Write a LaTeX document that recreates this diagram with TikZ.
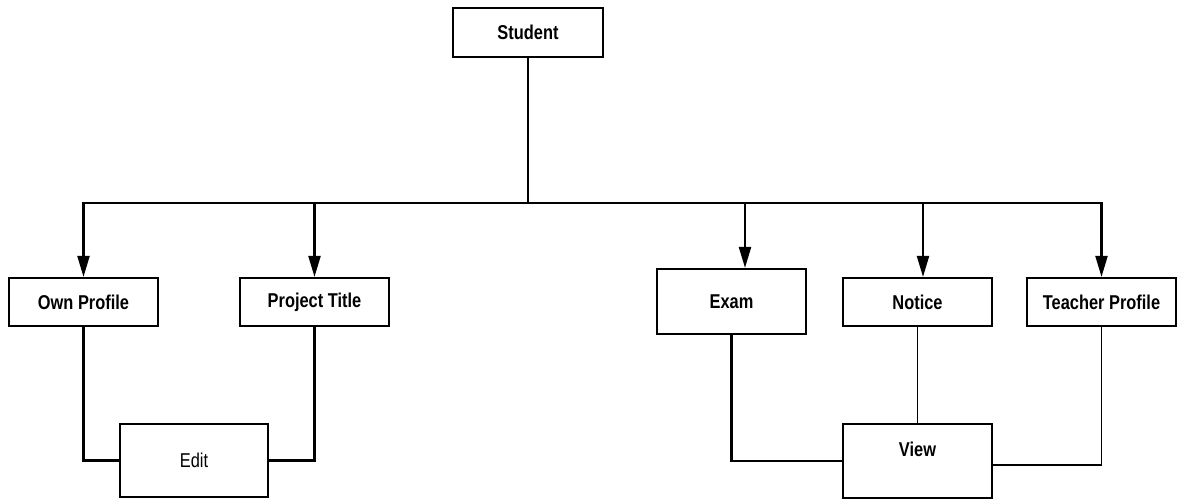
\documentclass[tikz,border=0pt]{standalone}
\usepackage{fontspec}
\setmainfont[FakeStretch=0.82]{Liberation Sans}
\usetikzlibrary{arrows.meta}
\begin{document}
\begin{tikzpicture}[x=1pt,y=-1pt,
  box/.style={draw,line width=2.2pt,inner sep=0pt,minimum width=149pt,minimum height=48pt,
    font=\fontsize{20}{23}\selectfont\bfseries},
  conn/.style={line width=2.2pt},
  thin/.style={line width=1.3pt},
  arr/.style={line width=2.2pt,-{Triangle[length=21pt,width=12pt]}}]
\useasboundingbox (0,0) rectangle (1181,499);
\node[box,minimum width=150pt,minimum height=49pt] (student) at (528,32.5) {Student};
\node[box] (own) at (83.5,302) {Own Profile};
\node[box] (proj) at (314.5,302) {Project Title};
\node[box,minimum height=65pt] (exam) at (731.5,301.5) {Exam};
\node[box] (notice) at (917.5,302) {Notice};
\node[box] (teacher) at (1101.5,302) {Teacher Profile};
\node[box,minimum width=148pt,minimum height=73pt,font=\fontsize{20}{23}\selectfont] (edit) at (194,460.5) {Edit};
\node[box,minimum height=74pt] (view) at (917.5,461) {};
\node[font=\fontsize{20}{23}\selectfont\bfseries] (viewlbl) at (917.5,449) {View};
\coordinate (bus) at (528,203);
\draw[conn] (student.south) -- (bus);
\draw[arr] (bus) -| (own.north);
\draw[arr] (bus) -| (proj.north);
\draw[arr] (bus) -| ([xshift=13.5pt]exam.north);
\draw[arr] (bus) -| ([xshift=5.5pt]notice.north);
\draw[arr] (bus) -| (teacher.north);
\draw[conn] (own.south) |- (edit.west);
\draw[conn] (proj.south) |- (edit.east);
\draw[conn] (exam.south) |- (view.west);
\draw[thin] (notice.south) -- (view.north);
\draw[thin,line width=1.6pt] (teacher.south) |- ([yshift=-4pt]view.east);
\end{tikzpicture}
\end{document}
